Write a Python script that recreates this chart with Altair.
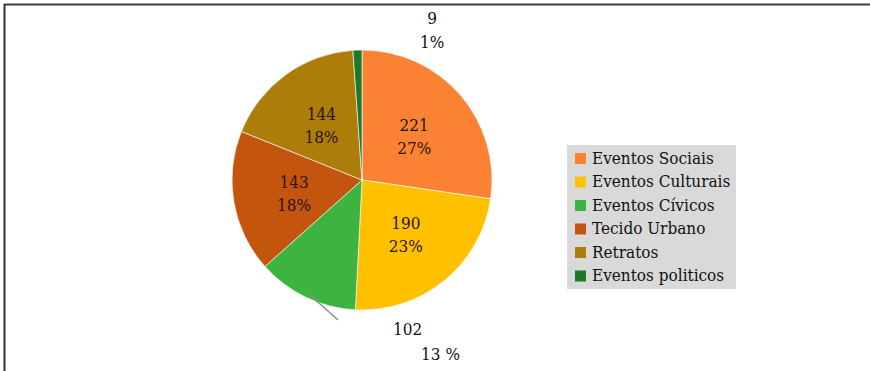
import altair as alt
import pandas as pd

categories = ["Eventos Sociais", "Eventos Culturais", "Eventos Cívicos",
              "Tecido Urbano", "Retratos", "Eventos politicos"]
values = [221, 190, 102, 143, 144, 9]
pct_labels = ["27%", "23%", "13 %", "18%", "18%", "1%"]
colors = ["#FA8232", "#FFC000", "#3DB43F", "#C4550F", "#AD7D0A", "#1E7828"]
inside = [True, True, False, True, True, False]

df = pd.DataFrame({
    "cat": categories,
    "value": values,
    "pct": pct_labels,
    "idx": list(range(len(categories))),
    "inside": inside,
})

W, H = 870, 371
CX, CY, R = 362, 180, 130
FONT = "DejaVu Serif Condensed, DejaVu Serif"
FS = 17

base = alt.Chart(df).encode(
    theta=alt.Theta("value:Q", stack=True),
    order=alt.Order("idx:Q"),
    x=alt.value(CX),
    y=alt.value(CY),
)

pie = base.mark_arc(outerRadius=R, stroke="white", strokeWidth=0.6).encode(
    color=alt.Color(
        "cat:N",
        scale=alt.Scale(domain=categories, range=colors),
        sort=categories,
        legend=alt.Legend(
            title=None, orient="none", legendX=567, legendY=145,
            fillColor="#D9D9D9", padding=5, symbolType="square",
            symbolSize=121, symbolStrokeWidth=0, labelFont=FONT,
            labelFontSize=FS, labelColor="#111", rowPadding=5.5,
            labelOffset=3, labelLimit=300,
        ),
    )
)

inner = base.transform_calculate(
    lab="datum.inside ? (datum.value + '\\n' + datum.pct) : ''"
).mark_text(radius=69, dy=-9, font=FONT, fontSize=FS, lineBreak="\n",
            lineHeight=23, color="#2b1408", baseline="middle").encode(
    text="lab:N"
)

out9 = base.transform_calculate(
    lab="datum.idx == 5 ? (datum.value + '\\n' + datum.pct) : ''"
).mark_text(radius=140, dx=75, dy=-21, font=FONT, fontSize=FS,
            lineBreak="\n", lineHeight=24, color="#111",
            baseline="middle").encode(text="lab:N")

out102a = base.transform_calculate(
    lab="datum.idx == 2 ? ('' + datum.value) : ''"
).mark_text(radius=140, dx=106, dy=24, font=FONT, fontSize=FS,
            color="#111", baseline="middle").encode(text="lab:N")

out102b = base.transform_calculate(
    lab="datum.idx == 2 ? datum.pct : ''"
).mark_text(radius=140, dx=139, dy=49, font=FONT, fontSize=FS,
            color="#111", baseline="middle").encode(text="lab:N")

leader = alt.Chart(df.head(1)).mark_rule(color="#8c8c8c", strokeWidth=1.5).encode(
    x=alt.value(310), y=alt.value(295), x2=alt.value(338), y2=alt.value(320)
)

frame_top = alt.Chart(df.head(1)).mark_rule(color="#404040", strokeWidth=2).encode(
    x=alt.value(4), x2=alt.value(W), y=alt.value(4.5), y2=alt.value(4.5)
)
frame_left = alt.Chart(df.head(1)).mark_rule(color="#303030", strokeWidth=2).encode(
    x=alt.value(4.5), x2=alt.value(4.5), y=alt.value(4), y2=alt.value(H)
)

chart = alt.layer(pie, inner, out9, out102a, out102b, leader,
                  frame_top, frame_left).properties(
    width=W, height=H, autosize=alt.AutoSizeParams(type="none"), padding=0,
    background="white",
).configure_view(stroke=None)

chart.save("out.html", embed_options={"renderer": "svg", "actions": False})
